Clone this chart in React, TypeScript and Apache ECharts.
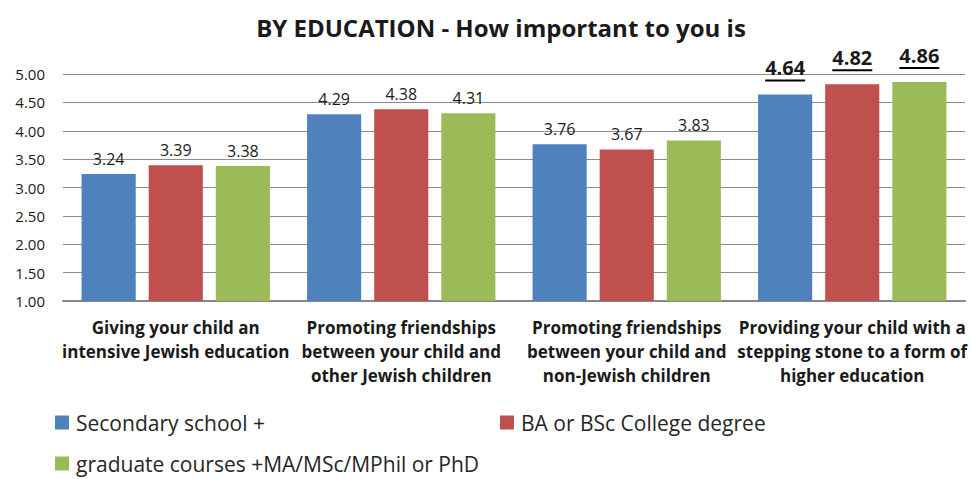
import React, { useEffect, useRef } from "react";
import * as echarts from "echarts";

const categories = [
  "Giving your child an\nintensive Jewish education",
  "Promoting friendships\nbetween your child and\nother Jewish children",
  "Promoting friendships\nbetween your child and\nnon-Jewish children",
  "Providing your child with a\nstepping stone to a form of\nhigher education",
];
const seriesNames = [
  "Secondary school +",
  "BA or BSc College degree",
  "graduate courses +MA/MSc/MPhil or PhD",
];
const secondary = [3.24, 4.29, 3.76, 4.64];
const baDegree = [3.39, 4.38, 3.67, 4.82];
const graduate = [3.38, 4.31, 3.83, 4.86];
const colors = ["#4F81BD", "#C0504D", "#9BBB59"];
const highlightIndex = 3;

const FONT = "'Open Sans', sans-serif";

export default function App() {
  const ref = useRef<HTMLDivElement>(null);
  useEffect(() => {
    if (!ref.current) return;
    const chart = echarts.init(ref.current, null, { renderer: "svg" });
    const values = [secondary, baDegree, graduate];
    const mkData = (arr: number[]) =>
      arr.map((v, i) =>
        i === highlightIndex
          ? {
              value: v,
              label: {
                formatter: (p: any) => `{b|${p.value.toFixed(2)}}\n{u|}`,
                distance: 13,
                rich: {
                  b: { fontFamily: FONT, fontSize: 20, fontWeight: "bold", color: "#1a1a1a", lineHeight: 23, align: "center" },
                  u: { width: 40, height: 2, backgroundColor: "#000", align: "center" },
                },
              },
            }
          : { value: v }
      );
    chart.setOption({
      animation: false,
      textStyle: { fontFamily: FONT },
      title: {
        text: "BY EDUCATION - How important to you is",
        left: 496,
        textAlign: "center",
        top: 10,
        textStyle: { fontFamily: FONT, fontSize: 24, fontWeight: "bold", color: "#1a1a1a" },
      },
      grid: { left: 63, right: 6, top: 74, bottom: 178, containLabel: false },
      legend: seriesNames.map((n, i) => ({
        data: [n],
        left: i === 1 ? 500 : 55,
        top: i === 2 ? 453 : 412,
        icon: "rect",
        itemWidth: 14,
        itemHeight: 14,
        itemGap: 6,
        padding: 0,
        textStyle: { fontFamily: FONT, fontSize: 21, color: "#262626", padding: [0, 0, 0, 2] },
      })),
      xAxis: {
        type: "category",
        data: categories,
        axisTick: { show: false },
        axisLine: { lineStyle: { color: "#868686", width: 2 } },
        axisLabel: {
          interval: 0,
          margin: 14,
          fontFamily: FONT,
          fontSize: 17,
          fontWeight: "bold",
          color: "#1a1a1a",
          lineHeight: 24,
        },
      },
      yAxis: {
        type: "value",
        min: 1,
        max: 5,
        interval: 0.5,
        axisLine: { show: false },
        axisTick: { show: false },
        axisLabel: {
          formatter: (v: number) => v.toFixed(2),
          fontFamily: FONT,
          fontSize: 15,
          color: "#1a1a1a",
          margin: 18,
        },
        splitLine: { lineStyle: { color: "#8C8C8C", width: 1 } },
      },
      series: values.map((arr, i) => ({
        name: seriesNames[i],
        type: "bar",
        data: mkData(arr),
        barWidth: "24%",
        barGap: "24%",
        itemStyle: { color: colors[i] },
        label: {
          show: true,
          position: "top",
          distance: 7,
          formatter: (p: any) => p.value.toFixed(2),
          fontFamily: FONT,
          fontSize: 16,
          color: "#1a1a1a",
        },
      })),
    });
    return () => chart.dispose();
  }, []);
  return (
    <div
      ref={ref}
      style={{ position: "fixed", left: 0, top: 0, width: 971, height: 479, background: "#fff" }}
    />
  );
}
